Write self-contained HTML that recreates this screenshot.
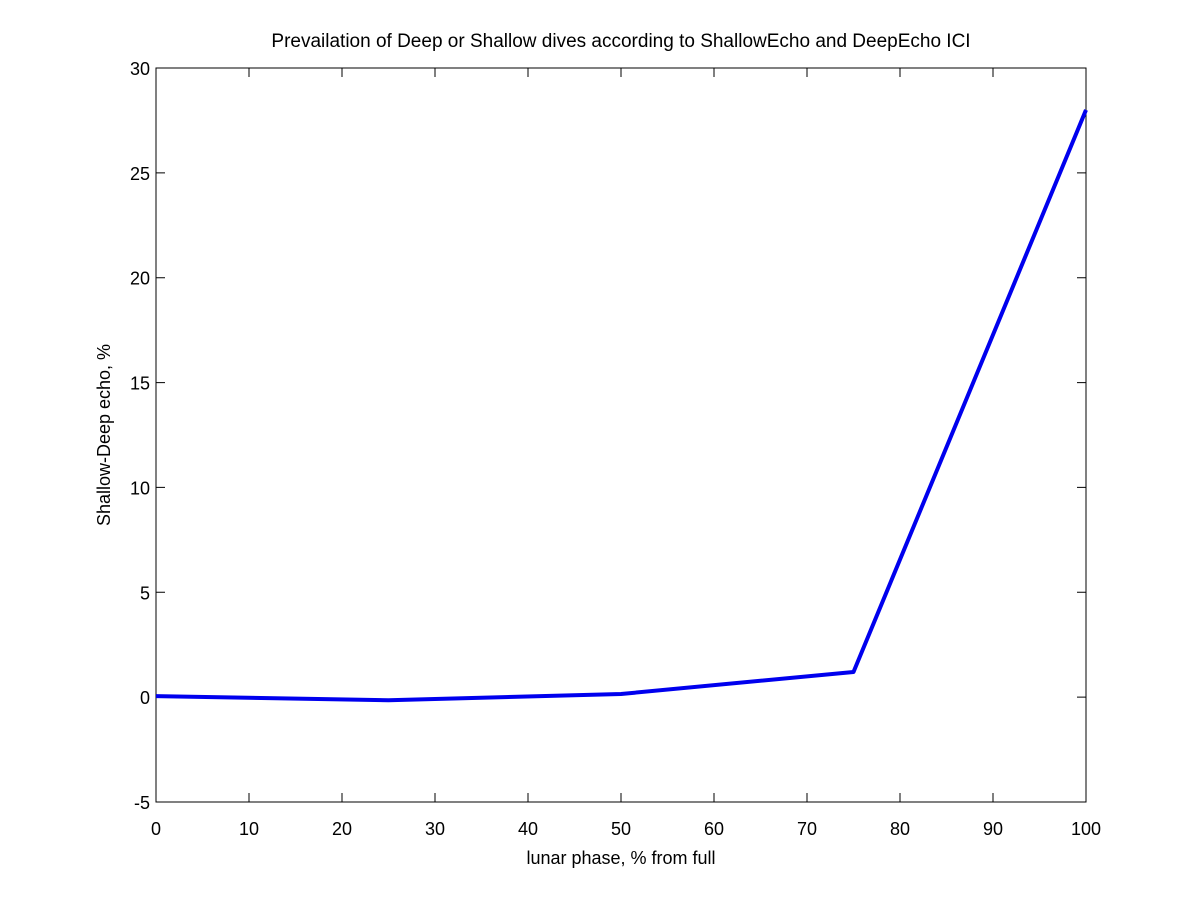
<!DOCTYPE html>
<html><head><meta charset="utf-8"><style>
html,body{margin:0;padding:0;background:#fff;}
svg{display:block;font-family:"Liberation Sans",sans-serif;}
</style></head><body>
<svg id="chart" width="1200" height="901"></svg>
<script>
const xVals=[0,25,50,75,100];
const yVals=[0.05,-0.15,0.15,1.2,28];
const xTicks=[0,10,20,30,40,50,60,70,80,90,100];
const yTicks=[-5,0,5,10,15,20,25,30];
const L=156,R=1086,T=68,B=802;
const xs=v=>L+(v-0)/(100-0)*(R-L);
const ys=v=>B-(v+5)/35*(B-T);
const svg=document.getElementById('chart');
const NS='http://www.w3.org/2000/svg';
function mk(tag,attrs,parent){const e=document.createElementNS(NS,tag);for(const k in attrs)e.setAttribute(k,attrs[k]);(parent||svg).appendChild(e);return e;}
const frame=mk('rect',{x:L,y:T,width:R-L,height:B-T,fill:'#fff',stroke:'#000','stroke-width':1});


xTicks.forEach(t=>{
  const x=xs(t);
  const tk=mk('path',{d:`M${x},${B}V${B-9}M${x},${T}V${T+9}`,stroke:'#000','stroke-width':1});
  
  
  const lb=mk('text',{x:x,y:B+33,'text-anchor':'middle','font-size':18});
  lb.textContent=t;
  
  
});
yTicks.forEach(t=>{
  const y=ys(t);
  const tk=mk('path',{d:`M${L},${y}H${L+9}M${R},${y}H${R-9}`,stroke:'#000','stroke-width':1});
  
  
  const lb=mk('text',{x:L-6,y:y+7,'text-anchor':'end','font-size':18});
  lb.textContent=t;
  
  
});
const line=mk('polyline',{points:xVals.map((v,i)=>xs(v)+','+ys(yVals[i])).join(' '),fill:'none',stroke:'#0000ee','stroke-width':4,'stroke-linejoin':'round'});


const title=mk('text',{x:621,y:47,'text-anchor':'middle','font-size':19});
title.textContent='Prevailation of Deep or Shallow dives according to ShallowEcho and DeepEcho ICI';


const xl=mk('text',{x:621,y:864,'text-anchor':'middle','font-size':18});
xl.textContent='lunar phase, % from full';


const yl=mk('text',{x:0,y:0,'text-anchor':'middle','font-size':18,transform:'translate(110,435) rotate(-90)'});
yl.textContent='Shallow-Deep echo, %';


</script>
</body></html>
